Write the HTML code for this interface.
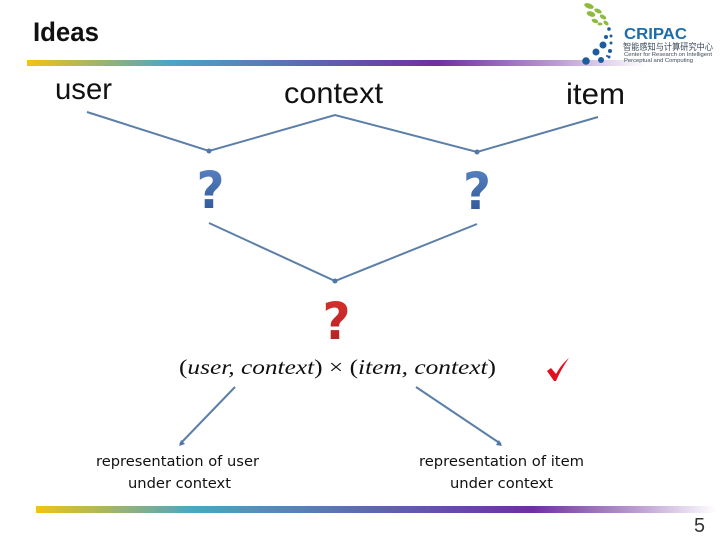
<!DOCTYPE html>
<html><head><meta charset="utf-8"><style>
html,body{margin:0;padding:0;background:#fff}
svg{display:block}
text{font-family:"Liberation Sans","Noto Sans CJK SC",sans-serif;fill:#111}
.d{font-family:"DejaVu Sans",sans-serif}
</style></head><body>
<svg width="720" height="540" viewBox="0 0 720 540" xmlns="http://www.w3.org/2000/svg">
<defs>
<linearGradient id="t" x1="0" x2="1" y1="0" y2="0">
<stop offset="0" stop-color="#f2c313"/><stop offset=".23" stop-color="#4ba6c4"/><stop offset=".66" stop-color="#6f2f9f"/><stop offset=".85" stop-color="#b99ad0"/><stop offset="1" stop-color="#fff"/>
</linearGradient>
<linearGradient id="b" x1="0" x2="1" y1="0" y2="0">
<stop offset="0" stop-color="#f2c313"/><stop offset=".23" stop-color="#4ba6c4"/><stop offset=".73" stop-color="#6f2f9f"/><stop offset=".88" stop-color="#b99ad0"/><stop offset="1" stop-color="#fff"/>
</linearGradient>
<linearGradient id="q" x1="0" x2="0" y1="0" y2="1"><stop offset="0" stop-color="#5b86c6"/><stop offset="1" stop-color="#2a5090"/></linearGradient>
<linearGradient id="r" x1="0" x2="0" y1="0" y2="1"><stop offset="0" stop-color="#d8302c"/><stop offset="1" stop-color="#b02024"/></linearGradient>
</defs>
<rect width="720" height="540" fill="#fff"/>
<text x="33" y="41" font-size="27" font-weight="bold" textLength="66" lengthAdjust="spacingAndGlyphs">Ideas</text>
<rect x="27" y="60" width="620" height="6" fill="url(#t)"/>
<rect x="36" y="506" width="680" height="7" fill="url(#b)"/>
<text x="55" y="99" font-size="30" textLength="57" lengthAdjust="spacingAndGlyphs">user</text>
<text x="284" y="103" font-size="30" textLength="99" lengthAdjust="spacingAndGlyphs">context</text>
<text x="566" y="104" font-size="30" textLength="59" lengthAdjust="spacingAndGlyphs">item</text>
<g fill="none" stroke="#5b7fa8" stroke-width="2">
<polyline points="87,112 209,151 335,115 477,152 598,117"/>
<polyline points="209,223 335,281 477,224"/>
<line x1="235" y1="387" x2="180" y2="444"/>
<line x1="416" y1="387" x2="501" y2="444"/>
</g>
<g fill="#4f77aa">
<circle cx="209" cy="151" r="2.500"/><circle cx="477" cy="152" r="2.500"/><circle cx="335" cy="281" r="2.500"/>
<path d="M179,446 l2,-6 l4,4z"/><path d="M502,446 l-6,-1 l3,-5z"/>
</g>
<text class="d" x="196.500" y="208" font-size="51" font-weight="bold" textLength="28" lengthAdjust="spacingAndGlyphs" style="fill:url(#q)">?</text>
<text class="d" x="463" y="209" font-size="51" font-weight="bold" textLength="28" lengthAdjust="spacingAndGlyphs" style="fill:url(#q)">?</text>
<text class="d" x="322.500" y="339" font-size="51" font-weight="bold" textLength="28" lengthAdjust="spacingAndGlyphs" style="fill:url(#r)">?</text>
<text x="179" y="374" font-size="21" textLength="317" lengthAdjust="spacingAndGlyphs" style="font-family:'Liberation Serif',serif;"><tspan>(</tspan><tspan font-style="italic">user, context</tspan><tspan>) × (</tspan><tspan font-style="italic">item, context</tspan><tspan>)</tspan></text>
<path d="M547,371 L551,368 L556,374 C560,367 564,362 569,358 C564,365 560,372 556,381 L554,381 Z" fill="#e01020"/>
<text class="d" x="96" y="466" font-size="14.500" textLength="163" lengthAdjust="spacingAndGlyphs">representation of user</text>
<text class="d" x="128" y="488" font-size="14.500" textLength="103" lengthAdjust="spacingAndGlyphs">under context</text>
<text class="d" x="419" y="466" font-size="14.500" textLength="165" lengthAdjust="spacingAndGlyphs">representation of item</text>
<text class="d" x="450" y="488" font-size="14.500" textLength="103" lengthAdjust="spacingAndGlyphs">under context</text>
<text x="694" y="532" font-size="20" textLength="11" lengthAdjust="spacingAndGlyphs" style="fill:#333">5</text>
<g fill="#8fbb3c">
<ellipse cx="589" cy="6" rx="5" ry="2.500" transform="rotate(20 589 6)"/>
<ellipse cx="598" cy="11" rx="4" ry="2" transform="rotate(25 598 11)"/>
<ellipse cx="591" cy="14" rx="4.500" ry="2.500" transform="rotate(20 591 14)"/>
<ellipse cx="603" cy="17" rx="3.500" ry="2" transform="rotate(30 603 17)"/>
<ellipse cx="595" cy="21" rx="3.500" ry="2" transform="rotate(20 595 21)"/>
<ellipse cx="606" cy="23" rx="3" ry="1.800" transform="rotate(40 606 23)"/>
<ellipse cx="600" cy="24" rx="2.500" ry="1.500"/>
</g>
<g fill="#1d5c9e">
<circle cx="609" cy="29" r="1.800"/><circle cx="611" cy="36" r="1.500"/><circle cx="606" cy="37" r="2"/>
<circle cx="611" cy="43" r="1.500"/><circle cx="603" cy="45" r="3.500"/><circle cx="610" cy="51" r="2"/>
<circle cx="596" cy="52" r="3.500"/><circle cx="609" cy="57" r="1.500"/><circle cx="601" cy="60" r="3"/>
<circle cx="586" cy="61" r="3.800"/><circle cx="607" cy="56" r="1"/>
</g>
<text x="624" y="39" font-size="16" font-weight="bold" textLength="63" lengthAdjust="spacingAndGlyphs" style="fill:#1d6ea8">CRIPAC</text>
<text x="623" y="50" font-size="9" textLength="90" lengthAdjust="spacingAndGlyphs" style="fill:#3a4a58">智能感知与计算研究中心</text>
<text x="624" y="56" font-size="5.500" textLength="88" lengthAdjust="spacingAndGlyphs" style="fill:#3a4a58">Center for Research on Intelligent</text>
<text x="624" y="62" font-size="5.500" textLength="69" lengthAdjust="spacingAndGlyphs" style="fill:#3a4a58">Perceptual and Computing</text>
</svg>
</body></html>
